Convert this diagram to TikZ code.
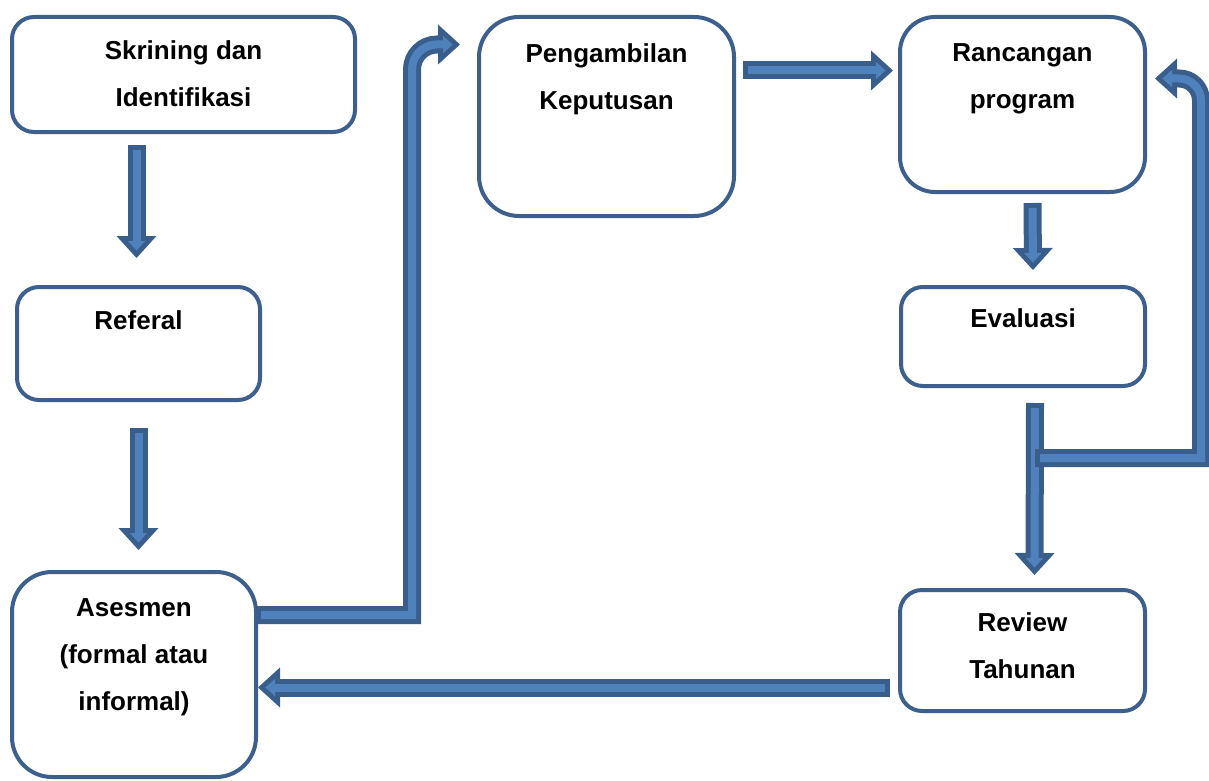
\documentclass[tikz,border=0pt]{standalone}
\usepackage{fontspec}
\setmainfont{Liberation Sans}
\usetikzlibrary{positioning}
\usetikzlibrary{calc}
\usetikzlibrary{arrows.meta}
\definecolor{boxblue}{HTML}{3C5F8E}
\definecolor{arrdark}{HTML}{3A5E8C}
\definecolor{arrlight}{HTML}{4F81BD}
\newcommand{\blockarrow}[1]{\draw[blkout] #1; \draw[blkin] #1;}

\begin{document}
\begin{tikzpicture}[x=1pt,y=-1pt,
  box/.style={draw=boxblue,line width=4pt,rounded corners=#1},
  box/.default=22pt,
  txt/.style={align=center,inner sep=0pt,font=\fontsize{26}{47}\selectfont\bfseries},
  blkout/.style={draw=arrdark,line width=18pt,
    -{Triangle[length=22pt,width=40pt,line width=0pt]}},
  blkin/.style={draw=arrlight,line width=8pt,shorten <=5pt,shorten >=7.4pt,
    -{Triangle[length=9.6pt,width=17.4pt,line width=0pt]}}]
  \useasboundingbox (0,0) rectangle (1209,781);
  % boxes
  \node[box,minimum width=343pt,minimum height=115pt] (skr) at (183.5,74.5) {};
  \node[box,minimum width=243pt,minimum height=113pt] (ref) at (138.5,343.5) {};
  \node[box=40pt,minimum width=244pt,minimum height=205pt] (ases) at (134,674.5) {};
  \node[box=40pt,minimum width=255pt,minimum height=199pt] (peng) at (606.5,116.5) {};
  \node[box=35pt,minimum width=245pt,minimum height=175pt] (ranc) at (1022.5,104.5) {};
  \node[box,minimum width=244pt,minimum height=99pt] (eval) at (1023,336.5) {};
  \node[box,minimum width=245pt,minimum height=121pt] (rev) at (1022.5,650.5) {};
  % texts
  \node[txt,below=25pt of skr.north] (skrt) {Skrining dan\\Identifikasi};
  \node[txt,below=25pt of ref.north] (reft) {Referal};
  \node[txt,below=28pt of ases.north] (asest) {Asesmen\\(formal atau\\informal)};
  \node[txt,below=28pt of peng.north] (pengt) {Pengambilan\\Keputusan};
  \node[txt,below=28pt of ranc.north] (ranct) {Rancangan\\program};
  \node[txt,below=23pt of eval.north] (evalt) {Evaluasi};
  \node[txt,below=24pt of rev.north] (revt) {Review\\Tahunan};
  % helper points
  \coordinate (fork) at ($(eval.south)+(12,70)$);
  \coordinate (rcol) at ($(ranc.east)+(54,0)$);
  \coordinate (rtip) at ($(ranc.east)+(8,-26)$);
  \coordinate (lcol) at ($(peng.west)+(-65,0)$);
  \coordinate (ptip) at ($(peng.west)+(-17,-72)$);
  \coordinate (aout) at ($(ases.east)+(-2,-59.5)$);
  % block arrows
  \blockarrow{($(skr.south -| ref)+(-2,11)$) -- ($(ref.north)+(-2,-27)$)}
  \blockarrow{($(ref.south)+(0,26)$) -- ($(ases.north -| ref)+(0,-20)$)}
  \blockarrow{(aout) -- (aout -| lcol) [rounded corners=25pt] -- (lcol |- ptip) -- (ptip)}
  \blockarrow{($(peng.east)+(7,-46)$) -- ($(ranc.west)+(-5,-34)$)}
  \blockarrow{($(ranc.south)+(10,9)$) -- ($(eval.north)+(10,-15)$)}
  \blockarrow{($(eval.south)+(12,15)$) -- ($(rev.north)+(12,-13)$)}
  \blockarrow{(fork) -- (fork -| rcol) [rounded corners=22pt] -- (rcol |- rtip) -- (rtip)}
  \blockarrow{($(rev.west)+(-8,37)$) -- ($(ases.east)+(0,13)$)}
\end{tikzpicture}
\end{document}
